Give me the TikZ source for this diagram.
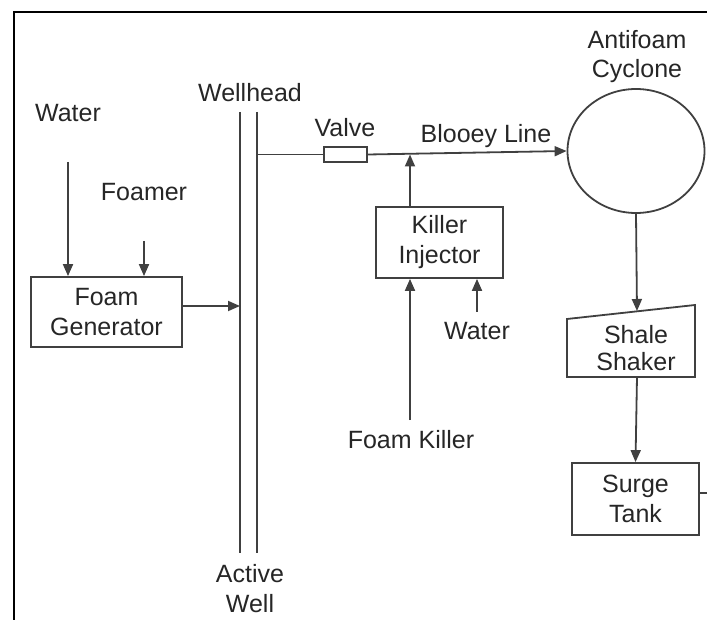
\documentclass[tikz,border=0pt]{standalone}
\usepackage{fontspec}
\setmainfont{Liberation Sans}
\usetikzlibrary{arrows.meta,shapes.geometric}
\definecolor{linegray}{HTML}{404040}
\definecolor{txt}{HTML}{262626}
\begin{document}
\begin{tikzpicture}[x=1pt,y=-1pt,
  every node/.style={font=\fontsize{25}{30}\selectfont, text=txt},
  line/.style={draw=linegray, line width=1.8pt},
  arr/.style={line, -{Triangle[length=12pt,width=10pt]}},
  box/.style={draw=linegray, line width=1.8pt, align=center, inner sep=0pt},
  lbl/.style={inner sep=0pt, anchor=base}
]
\useasboundingbox (0,0) rectangle (707,620);
% frame
\draw[line width=2.2pt, black] (707,12) -- (14,12) -- (14,620);

% labels
\node[lbl] (water1) at (68,122) {Water};
\node[lbl] (foamer) at (144,201) {Foamer};
\node[lbl] (wellhead) at (250,102) {Wellhead};
\node[lbl] (valvelbl) at (345,137) {Valve};
\node[lbl] (blooey) at (486,143) {Blooey Line};
\node[lbl] (antifoam) at (637,49) {Antifoam};
\node[lbl] (cyclonelbl) at (637,78) {Cyclone};
\node[lbl] (water2) at (477,340) {Water};
\node[lbl] (foamkiller) at (411,448) {Foam Killer};
\node[lbl] (active) at (250,582) {Active};
\node[lbl] (well) at (250,612) {Well};

% boxes
\node[box, minimum width=151pt, minimum height=70pt] (fg) at (106.5,312) {Foam\\Generator};
\node[box, minimum width=127pt, minimum height=71pt] (ki) at (439.5,242.5) {Killer\\Injector};
\node[box, minimum width=127pt, minimum height=72pt] (st) at (635.5,499) {Surge\\Tank};
\node[draw=linegray, line width=1.8pt, ellipse, minimum width=137pt, minimum height=124pt, inner sep=0pt] (cy) at (636,151) {};
\node[draw=linegray, line width=1.8pt, minimum width=43pt, minimum height=15pt, inner sep=0pt] (valve) at (345.5,154.5) {};

% shale shaker (trapezoid)
\coordinate (sstl) at (567,319);
\coordinate (sstr) at (695,305);
\coordinate (ssbr) at (695,377);
\coordinate (ssbl) at (567,377);
\draw[line, line join=miter] (sstl) -- (sstr) -- (ssbr) -- (ssbl) -- cycle;
\node[align=center, inner sep=0pt, font=\fontsize{25}{27}\selectfont] (ss) at (636,348) {Shale\\Shaker};
\coordinate (sstop) at (637,311);
\coordinate (ssbot) at (637,377);

% wellhead / active well lines
\coordinate (w1t) at (240,112);
\coordinate (w1b) at (240,553);
\coordinate (w2t) at (257,112);
\coordinate (w2b) at (257,553);
\draw[line] (w1t) -- (w1b);
\draw[line] (w2t) -- (w2b);

% feed arrows into foam generator
\coordinate (water1s) at (68,162);
\coordinate (foamers) at (144,241);
\draw[arr] (water1s) -- (water1s |- fg.north);
\draw[arr] (foamers) -- (foamers |- fg.north);
\coordinate (fgout) at (182,306);
\draw[arr] (fgout) -- (fgout -| w1t);

% blooey line
\coordinate (bl0) at (257,154.5);
\draw[line] (bl0) -- (valve.west);
\draw[arr] (valve.east) -- (cy.west);

% killer injector
\coordinate (kiup) at (410,207);
\coordinate (kitop) at (410,154.5);
\draw[arr] (kiup) -- (kitop);
\coordinate (fks) at (410,420);
\draw[arr] (fks) -- (fks |- ki.south);
\coordinate (w2s) at (477,312);
\draw[arr] (w2s) -- (w2s |- ki.south);

% cyclone -> shaker -> tank
\draw[arr] (cy.south) -- (sstop);
\draw[arr] (ssbot) -- (st.north);
\coordinate (stub) at (707,493);
\draw[line] (st.east |- stub) -- (stub);
\end{tikzpicture}
\end{document}
